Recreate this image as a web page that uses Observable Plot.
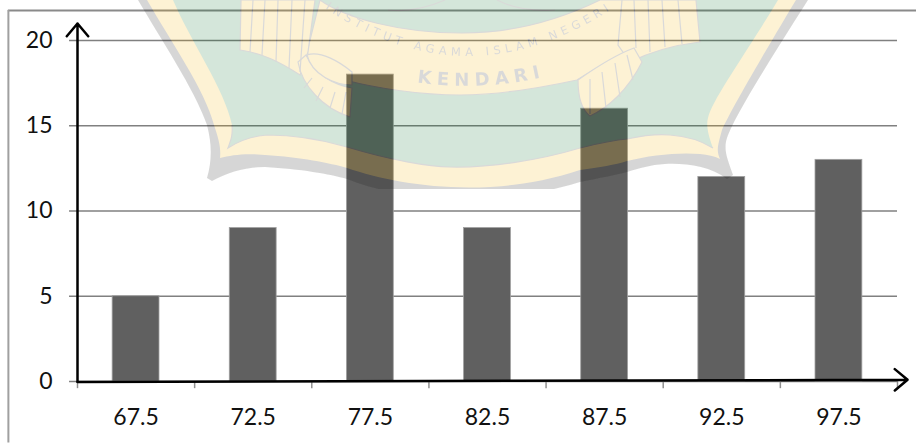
<!DOCTYPE html>
<html>
<head>
<meta charset="utf-8">
<script src="https://cdn.jsdelivr.net/npm/d3@7"></script>
<script src="https://cdn.jsdelivr.net/npm/@observablehq/plot@0.6"></script>
<style>
html,body{margin:0;padding:0;background:#fff}
#wrap{position:relative;width:916px;height:443px;overflow:hidden}
#wrap>svg{position:absolute;left:0;top:0}
</style>
</head>
<body>
<div id="wrap"></div>
<script>
const classMarks = [67.5, 72.5, 77.5, 82.5, 87.5, 92.5, 97.5];
const frequencies = [5, 9, 18, 9, 16, 12, 13];
const classEdges = [65, 70, 75, 80, 85, 90, 95, 100];
const yTicks = [0, 5, 10, 15, 20];
const halfBar = 1;

const chart = Plot.plot({
  width: 916, height: 443,
  marginLeft: 77, marginRight: 19, marginTop: 40, marginBottom: 62,
  x: {type: "linear", domain: [65, 100]},
  y: {domain: [0, 20]},
  style: {fontFamily: "Lato", fontSize: "23px", color: "#111", background: "transparent"},
  marks: [
    Plot.ruleY([21.76], {x1: 62.05, x2: 104, stroke: "#8a8a8a", strokeWidth: 2}),
    Plot.ruleX([62.05], {y1: -3.6, y2: 21.76, stroke: "#a0a0a0", strokeWidth: 2}),
    Plot.ruleY(yTicks, {x1: 64.66, x2: 100, stroke: "#808080", strokeWidth: 1.5}),
    Plot.ruleX(classEdges, {y1: 0, y2: -0.42, stroke: "#909090", strokeWidth: 1.5}),
    Plot.rect(classMarks, {
      x1: d => d - halfBar, x2: d => d + halfBar,
      y1: 0, y2: (d, i) => frequencies[i],
      fill: "#606060", stroke: "#a0a0a0", strokeWidth: 0.8
    }),
    Plot.axisY({ticks: yTicks, tickSize: 0, tickPadding: 25, label: null, fontSize: 23}),
    Plot.axisX({ticks: classMarks, tickFormat: d3.format(".1f"), tickSize: 0, tickPadding: 27, label: null, fontSize: 23}),
    Plot.arrow([0], {x1: 65, y1: 0, x2: 65, y2: 21, bend: 0, stroke: "#000", strokeWidth: 2.5, headLength: 10, headAngle: 80, inset: 0}),
    Plot.arrow([0], {x1: 65, y1: -0.03, x2: 100.43, y2: 0.1, bend: 0, stroke: "#000", strokeWidth: 2.5, headLength: 10, headAngle: 80, inset: 0})
  ]
});
document.getElementById("wrap").appendChild(chart);

// The faint institute crest that lies over the page: a picture, not chart data.
const crest = `<svg xmlns="http://www.w3.org/2000/svg" width="916" height="443" viewBox="0 0 916 443" style="pointer-events:none">
<defs>
<clipPath id="crop"><rect x="0" y="0" width="916" height="189"/></clipPath>
<filter id="soft"><feGaussianBlur stdDeviation="0.7"/></filter>
<path id="arc1" d="M322,6 Q470,108 622,2"/>
<path id="arc2" d="M415,82 Q480,92 548,76"/>
</defs>
<g clip-path="url(#crop)" opacity="0.165"><g filter="url(#soft)">
<path fill="#0c0c0c" d="M138,0 C160,38 195,90 207,125 C212,145 212,160 207,178 L212,181 C228,172 245,167 265,167 C300,169 330,174 347,179 C400,200 490,210 580,182 C600,178 615,175 627,172 C640,168 650,165 665,164 C685,163 710,166 727,179 L733,175 C728,160 723,150 727,138 C735,115 770,60 808,0 Z"/>
<path fill="#f4b200" d="M147,0 C170,40 205,90 214,125 C219,140 221,148 220,158 C232,155 245,153 265,155 C300,157 330,163 347,168 C400,186 490,200 580,170 C600,167 615,165 627,161 C650,155 680,152 700,154 C708,155 714,156 720,159 C716,150 718,145 722,130 C730,112 760,60 796,0 Z"/>
<path fill="#007025" d="M173,0 C190,40 225,90 232,125 C233,135 231,140 228,148 C240,140 255,136 267,135 C300,135 330,142 347,147 C390,160 430,167 450,167 C490,168 540,160 580,148 C600,143 615,140 627,139 C645,135 660,134 670,135 C685,136 700,140 713,148 C708,135 706,125 708,118 C712,100 745,55 778,0 Z"/>
<path fill="none" stroke="#222" stroke-width="1.2" d="M232,125 C233,135 231,140 228,148 C240,140 255,136 267,135 C300,135 330,142 347,147 C390,160 430,167 450,167 C490,168 540,160 580,148 C600,143 615,140 627,139 C645,135 660,134 670,135 C685,136 700,140 713,148"/>
<path fill="#f4b200" stroke="#222" stroke-width="1.2" d="M320,0 C345,18 400,33 462,33 C510,33 555,22 600,0 L640,0 L637,46 C620,55 595,68 577,80 C540,88 500,95 460,95 C420,95 375,88 345,80 C330,73 312,65 307,52 Z"/>
<path fill="#f4b200" stroke="#222" stroke-width="1.2" d="M241,0 L240,50 C262,53 280,62 300,75 L308,52 L315,0 Z"/>
<path fill="#f4b200" stroke="#222" stroke-width="1.2" d="M622,0 L618,45 L630,62 C650,52 675,45 700,42 L696,0 Z"/>
<path fill="#f4b200" stroke="#222" stroke-width="1.2" d="M298,62 C302,85 322,108 350,117 L352,88 C335,85 315,75 306,55 Z"/>
<path fill="#f4b200" stroke="#222" stroke-width="1.2" d="M578,80 C578,98 582,110 590,116 C608,108 628,90 642,62 L634,48 C615,55 595,68 578,80 Z"/>
<path fill="#f4b200" stroke="#222" stroke-width="1.2" d="M307,55 C320,50 340,62 352,72 L352,85 C335,85 312,75 307,55 Z"/>
<g fill="none" stroke="#222" stroke-width="1.2">
<path d="M253,0 L250,52 M265,0 L262,55 M278,0 L276,62 M292,0 L289,68 M305,0 L300,72"/>
<path d="M312,78 L304,88 M323,87 L316,101 M335,92 L330,108 M346,92 L342,114"/>
<path d="M634,0 L636,48 M648,0 L650,52 M662,0 L665,47 M678,0 L682,44"/>
<path d="M590,79 L590,114 M602,72 L606,108 M615,63 L620,97 M627,55 L633,80"/>
<path d="M388,10 Q415,13 445,0 M497,0 Q520,12 555,10"/>
</g>
<g fill="#222" font-family="DejaVu Sans">
<text font-size="11.5" letter-spacing="4.6"><textPath href="#arc1" startOffset="4">INSTITUT AGAMA ISLAM NEGERI</textPath></text>
<text font-size="18" font-weight="bold" letter-spacing="5.6"><textPath href="#arc2" startOffset="2">KENDARI</textPath></text>
</g>
</g></g>
</svg>`;
document.getElementById("wrap").insertAdjacentHTML("beforeend", crest);
</script>
</body>
</html>
